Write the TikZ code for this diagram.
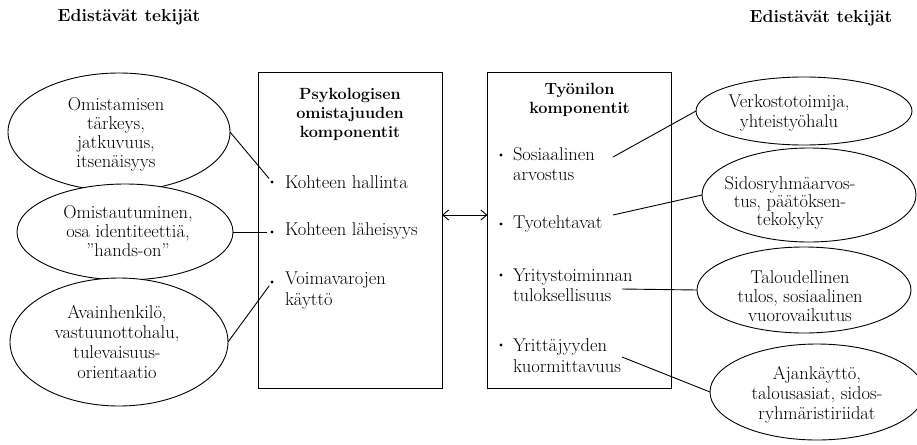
\documentclass[tikz,border=0pt]{standalone}
\usetikzlibrary{shapes.geometric,arrows.meta}
\begin{document}
\begin{tikzpicture}[x=1pt,y=-1pt,
  every node/.style={inner sep=0pt, outer sep=0pt},
  oval/.style={ellipse, draw, fill=white, line width=0.9pt, inner sep=0pt},
  txt/.style={align=center, font=\fontsize{18.5}{19}\selectfont},
  item/.style={align=left, anchor=west, font=\fontsize{18.5}{20}\selectfont},
  head/.style={align=center, font=\fontsize{16.2}{19}\selectfont\bfseries},
  panel/.style={draw, line width=0.9pt, minimum width=184pt, minimum height=316pt},
  dot/.style={circle, fill, minimum size=3.2pt, inner sep=0pt},
  link/.style={line width=0.9pt},
  >={Straight Barb[length=6pt,width=10pt]},
]
\useasboundingbox (0,0) rectangle (917,444);

% column headings
\node[head, font=\fontsize{17.5}{19}\selectfont\bfseries] (T1) at (129,17) {Edistävät tekijät};
\node[head, font=\fontsize{17.5}{19}\selectfont\bfseries] (T2) at (821,18) {Edistävät tekijät};

% left ovals (each one drawn over the previous)
\node[oval, minimum width=222pt, minimum height=118pt] (L1) at (119,132) {};
\node[oval, minimum width=216pt, minimum height=96pt]  (L2) at (125,232) {};
\node[oval, minimum width=218pt, minimum height=128pt] (L3) at (119,342) {};
\node[txt] (L1t) at (116,134) {Omistamisen\\tärkeys,\\jatkuvuus,\\itsenäisyys};
\node[txt] (L2t) at (128,231) {Omistautuminen,\\osa identiteettiä,\\''hands-on''};
\node[txt, font=\fontsize{18.5}{20}\selectfont] (L3t) at (117,342) {Avainhenkilö,\\vastuunottohalu,\\tulevaisuus-\\orientaatio};

% right ovals
\node[oval, minimum width=216pt, minimum height=68pt] (R1) at (804,111) {};
\node[oval, minimum width=214pt, minimum height=94pt] (R2) at (809,195) {};
\node[oval, minimum width=214pt, minimum height=86pt] (R3) at (804,290) {};
\node[oval, minimum width=214pt, minimum height=96pt] (R4) at (817,392) {};
\node[txt, font=\fontsize{18.5}{20}\selectfont] (R1t) at (789,113) {Verkostotoimija,\\yhteistyöhalu};
\node[txt, font=\fontsize{18.5}{18}\selectfont] (R2t) at (790,203) {Sidosryhmäarvos-\\tus, päätöksen-\\tekokyky};
\node[txt] (R3t) at (800,296) {Taloudellinen\\tulos, sosiaalinen\\vuorovaikutus};
\node[txt, font=\fontsize{18.5}{20}\selectfont] (R4t) at (817,395) {Ajankäyttö,\\talousasiat, sidos-\\ryhmäristiriidat};

% the two component panels
\node[panel] (P1) at (350,230) {};
\node[panel] (P2) at (579.5,230) {};
\node[head] (H1) at (350,114) {Psykologisen\\omistajuuden\\komponentit};
\node[head] (H2) at (579.5,99.5) {Työnilon\\komponentit};

% left panel items
\node[dot] (a1) at (272,182) {};
\node[dot] (a2) at (272,232) {};
\node[dot] (a3) at (272,282) {};
\node[item] (A1) at (285,182) {Kohteen hallinta};
\node[item] (A2) at (285,231) {Kohteen läheisyys};
\node[item, font=\fontsize{18.5}{21}\selectfont] (A3) at (285,291) {Voimavarojen\\käyttö};

% right panel items
\node[dot] (b1) at (501,155) {};
\node[dot] (b2) at (501,224) {};
\node[dot] (b3) at (501,275) {};
\node[dot] (b4) at (501,345) {};
\node[item] (B1) at (513,164.5) {Sosiaalinen\\arvostus};
\node[item] (B2) at (513,224) {Tyotehtavat};
\node[item] (B3) at (513,285) {Yritystoiminnan\\tuloksellisuus};
\node[item, font=\fontsize{18.5}{21}\selectfont] (B4) at (513,355.5) {Yrittäjyyden\\kuormittavuus};

% connectors
\draw[link, shorten >=3pt] (L1.east) -- (a1);
\draw[link, shorten >=3pt] (L2.east) -- (a2);
\draw[link, shorten >=3pt] (L3.east) -- (a3);

\coordinate (s1) at (613,157);
\coordinate (s2) at (613,215);
\coordinate (s3) at (622,289);
\coordinate (s4) at (622,357);
\draw[link] (s1) -- (R1.west);
\draw[link] (s2) -- (R2.west);
\draw[link] (s3) -- (R3.west);
\draw[link] (s4) -- (R4.west);

\draw[link, <->] ([yshift=15pt]P1.east) -- ([yshift=15pt]P2.west);
\end{tikzpicture}
\end{document}
